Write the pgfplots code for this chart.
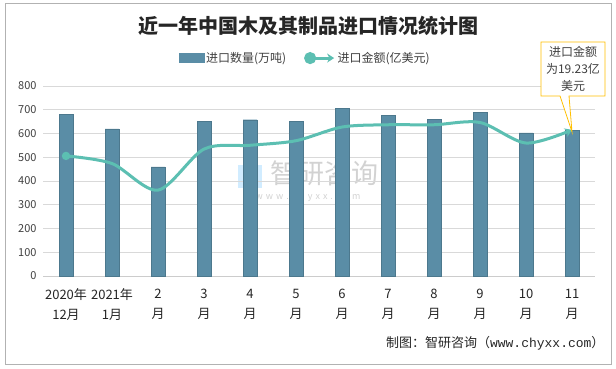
\documentclass[border=0pt]{standalone}
\usepackage{fontspec}
\setmainfont{Noto Sans CJK SC}
\newfontfamily\monof{Liberation Mono}
\usepackage{pgfplots}
\pgfplotsset{compat=1.18}
\usetikzlibrary{arrows.meta}
\definecolor{barc}{HTML}{5A8DA6}
\definecolor{linec}{HTML}{5CBFB2}
\definecolor{txt}{HTML}{404040}
\definecolor{callc}{HTML}{FFC000}
\begin{document}
\begin{tikzpicture}
\draw[color=gray!60, line width=0.8pt, fill=white] (5pt,4pt) rectangle (611pt,365pt);
\path (0pt,0pt) rectangle (616pt,368pt);
\node[font=\bfseries\fontsize{20}{24}\selectfont, text=black!85] at (308pt,342pt) {近一年中国木及其制品进口情况统计图};
% watermark
\fill[blue!40!cyan, opacity=0.18] (238pt,180pt) rectangle (262pt,203pt);
\node[font=\fontsize{27}{30}\selectfont, text=gray, opacity=0.35] at (324pt,195pt) {智研咨询};
\node[font=\fontsize{9}{10}\selectfont, text=gray, opacity=0.35] at (308pt,171pt) {w\,\,w\,\,w\,\,.\,\,c\,\,h\,\,y\,\,x\,\,x\,\,.\,\,c\,\,o\,\,m};
\begin{axis}[at={(43pt,92pt)}, anchor=south west, scale only axis,
  width=552pt, height=190pt,
  xmin=-0.5, xmax=11.5, ymin=0, ymax=800,
  ytick={0,100,...,800},
  ymajorgrids, grid style={color=gray!30, line width=0.6pt},
  axis lines*=left, separate axis lines,
  x axis line style={draw=gray!40, line width=0.8pt},
  y axis line style={draw=none},
  tick style={draw=none},
  /pgf/number format/assume math mode=true,
  yticklabel style={font=\fontsize{11}{13}\selectfont, text=txt, xshift=-3pt},
  xtick={0,...,11},
  xticklabels={{2020年\\12月},{2021年\\1月},{2\\月},{3\\月},{4\\月},{5\\月},{6\\月},{7\\月},{8\\月},{9\\月},{10\\月},{11\\月}},
  xticklabel style={align=center, font=\fontsize{13}{20}\selectfont, text=black!85, yshift=-5pt},
  ybar, bar width=14pt,
]
\addplot[fill=barc, draw=barc!85!black, line width=0.4pt] coordinates {
(0,680) (1,620) (2,460) (3,650) (4,658) (5,650) (6,705) (7,675) (8,660) (9,688) (10,603) (11,612)};
\end{axis}
\begin{axis}[at={(43pt,92pt)}, anchor=south west, scale only axis,
  width=552pt, height=190pt,
  xmin=-0.5, xmax=11.5, ymin=0, ymax=25,
  hide axis,
  legend style={at={(0.475,1.147)}, anchor=center, draw=none, fill=none,
    legend columns=2, font=\fontsize{12}{14}\selectfont, text=txt,
    /tikz/every even column/.append style={column sep=16pt}},
]
\addlegendimage{legend image code/.code={\fill[barc] (0pt,-4.5pt) rectangle (25pt,4.5pt);}}
\addlegendentry{进口数量(万吨)}
\addplot[color=linec, line width=3pt, smooth, tension=0.5,
  -{Stealth[length=7pt,width=9pt]},
  mark=*, mark indices={1}, mark options={solid, fill=linec, draw=linec, scale=1.3},
  legend image code/.code={\draw[linec, line width=3pt, -{Stealth[length=7pt,width=9pt]}] (0pt,0pt) -- (27pt,0pt); \fill[linec] (3pt,0pt) circle (4.5pt);}
  ] coordinates {
(0,15.8) (1,14.8) (2,11.3) (3,16.7) (4,17.2) (5,17.8) (6,19.6) (7,19.9) (8,19.9) (9,20.2) (10,17.5) (11,19.23)};
\addlegendentry{进口金额(亿美元)}
\end{axis}
% callout
\draw[color=callc, fill=white, line width=0.8pt] (541pt,326pt) -- (605pt,326pt) -- (605pt,272pt) -- (569pt,272pt) -- (572pt,236pt) -- (560pt,272pt) -- (541pt,272pt) -- cycle;
\node[align=center, font=\fontsize{12}{17}\selectfont, text=txt] at (573pt,299pt) {进口金额\\为19.23亿\\美元};
\node[anchor=east, font=\fontsize{13}{15}\selectfont, text=black!85] at (608pt,25pt) {制图：智研咨询（{\monof www.chyxx.com}）};
\end{tikzpicture}
\end{document}
